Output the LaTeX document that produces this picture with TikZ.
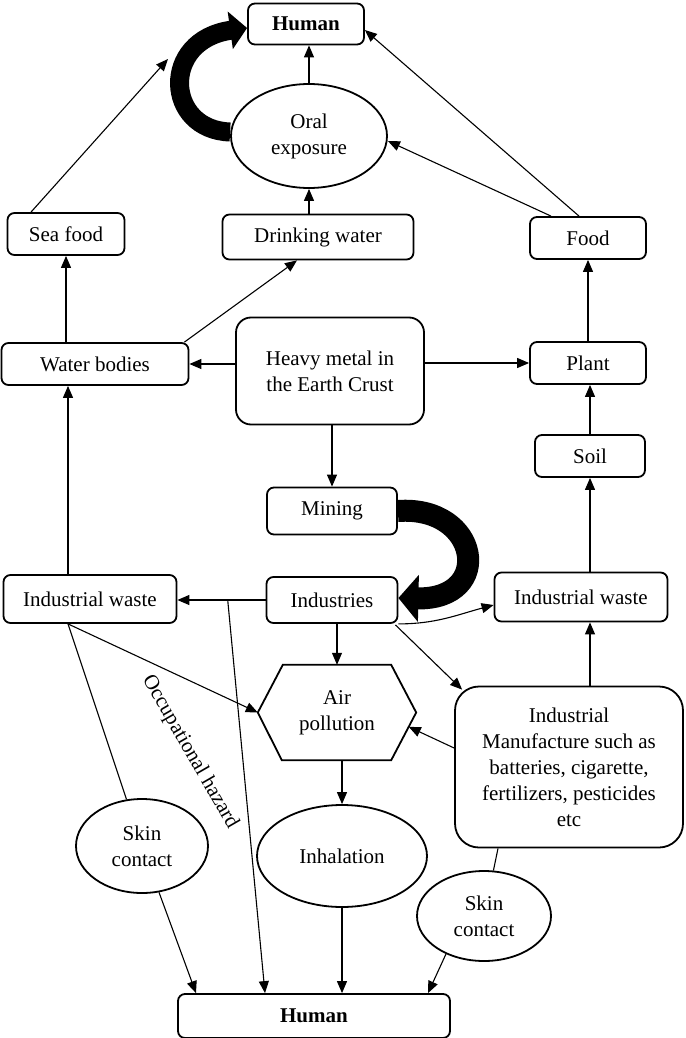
\documentclass[tikz,border=0pt]{standalone}
\usepackage{fontspec}
\setmainfont{Liberation Serif}
\usetikzlibrary{arrows.meta,shapes.geometric,calc}
\begin{document}
\begin{tikzpicture}[x=1pt,y=-1pt,
  every node/.style={font=\fontsize{21}{26}\selectfont, align=center, inner sep=0pt},
  box/.style={draw, line width=1.8pt, rounded corners=7pt},
  oval/.style={draw, line width=1.8pt, ellipse},
  conn/.style={line width=1.1pt, -{Triangle[length=12pt,width=10pt]}},
  link/.style={line width=1.1pt},
  heavyA/.style={line width=19pt, -{Triangle[length=17pt,width=37pt]}},
  heavyB/.style={line width=22pt, -{Triangle[length=20pt,width=46pt]}}]
\useasboundingbox (0,0) rectangle (685,1038);

\node[box, minimum width=116pt, minimum height=41pt] (human1) at (306,24) {\textbf{Human}};
\node[oval, minimum width=156pt, minimum height=104pt] (oral) at (309,136) {Oral\\exposure};
\node[box, minimum width=117pt, minimum height=42pt] (seafood) at (66,234) {Sea food};
\node[box, minimum width=191pt, minimum height=45pt] (drink) at (318,237) {Drinking water};
\node[box, minimum width=116pt, minimum height=42pt] (food) at (588,238) {Food};
\node[box, minimum width=187pt, minimum height=42pt] (water) at (95,364) {Water bodies};
\node[box, rounded corners=15pt, minimum width=188pt, minimum height=107pt] (heavy) at (330,371) {Heavy metal in\\the Earth Crust};
\node[box, minimum width=116pt, minimum height=42pt] (plant) at (588,363) {Plant};
\node[box, minimum width=110pt, minimum height=42pt] (soil) at (590,456) {Soil};
\node[box, minimum width=130pt, minimum height=47pt] (mining) at (332,511) {Mining};
\node[box, minimum width=131pt, minimum height=46pt] (indus) at (332,600) {Industries};
\node[box, minimum width=173pt, minimum height=48pt] (iwl) at (90,599) {Industrial waste};
\node[box, minimum width=173pt, minimum height=49pt] (iwr) at (581,597) {Industrial waste};
\node[minimum width=158pt, minimum height=95pt] (air) at (337,712.5) {Air\\pollution};
\coordinate (hxtl) at ([xshift=25pt]air.north west);
\coordinate (hxtr) at ([xshift=-25pt]air.north east);
\coordinate (hxbr) at ([xshift=-25pt]air.south east);
\coordinate (hxbl) at ([xshift=24pt]air.south west);
\draw[line width=1.8pt] (air.west) -- (hxtl) -- (hxtr) -- (air.east) -- (hxbr) -- (hxbl) -- cycle;
\node[box, rounded corners=24pt, minimum width=228pt, minimum height=161pt] (manu) at (569,767) {Industrial\\Manufacture such as\\batteries, cigarette,\\fertilizers, pesticides\\etc};
\node[oval, minimum width=132pt, minimum height=94pt] (skinl) at (142,846) {Skin\\contact};
\node[oval, minimum width=170pt, minimum height=102pt] (inhal) at (342,856) {Inhalation};
\node[oval, minimum width=134pt, minimum height=90pt] (skinr) at (484,916) {Skin\\contact};
\node[box, minimum width=272pt, minimum height=44pt] (human2) at (314,1016) {\textbf{Human}};
\node[rotate=-60] (occlabel) at (190,752) {Occupational hazard};

% connectors
\draw[conn] (oral.north) -- (oral.north |- human1.south);
\coordinate (sfend) at (168,59);
\draw[conn] ([xshift=-35pt]seafood.north) -- (sfend);
\draw[conn] ([xshift=-9pt]food.north) -- ([yshift=-6pt]human1.east);
\draw[conn] ([xshift=-37pt]food.north) -- ([yshift=-5pt]oral.east);
\draw[conn] (drink.north -| oral.south) -- (oral.south);
\draw[conn] (water.north -| seafood.south) -- (seafood.south);
\draw[conn] ([xshift=-5pt]water.north east) -- ([xshift=-21pt]drink.south);
\draw[conn] (heavy.west |- water.east) -- (water.east);
\draw[conn] (heavy.east |- plant.west) -- (plant.west);
\draw[conn] (plant.north) -- (plant.north |- food.south);
\draw[conn] (soil.north) -- (soil.north |- plant.south);
\draw[conn] (iwr.north -| soil.south) -- (soil.south);
\draw[conn] (heavy.south -| mining.north) -- (mining.north);
\draw[conn] (indus.west) -- (indus.west -| iwl.east);
\coordinate (iwb) at ([xshift=-22pt]iwl.south);
\coordinate (iwt) at ([xshift=-22pt]iwl.north);
\draw[conn] (iwt) -- (iwt |- water.south);
\draw[conn] (indus.south east) to[out=0,in=195] ([yshift=-8pt]iwr.west);
\coordinate (m1) at ([xshift=21pt]manu.north);
\draw[conn] (m1) -- (m1 |- iwr.south);
\draw[conn] (air.north |- indus.south) -- (air.north);
\draw[conn] ([xshift=-3pt,yshift=-1pt]indus.south east) -- ([xshift=8pt,yshift=-4pt]manu.north west);
\draw[conn] ([yshift=19pt]manu.west) -- ($(air.east)!0.3!(hxbr)$);
\draw[conn] (iwb) -- (air.west);
\draw[link] (iwb) -- (skinl);
\coordinate (occ) at ($(indus.west)!0.43!(iwl.east)$);
\draw[conn] (occ) -- ([xshift=-49pt]human2.north);
\draw[conn] (air.south -| inhal.north) -- (inhal.north);
\draw[conn] (inhal.south) -- (inhal.south |- human2.north);
\draw[conn] (skinl) -- ([xshift=-118pt]human2.north);
\coordinate (m3) at ([xshift=-71pt]manu.south);
\draw[link] (m3) -- (skinr);
\draw[conn] (skinr.225) -- ([xshift=114pt]human2.north);

% thick arrows
\draw[heavyA] ([yshift=4pt]oral.west) .. controls (165,130) and (160,40) .. ([yshift=-4pt]human1.west);
\draw[heavyB] (mining.east) .. controls (480,505) and (495,600) .. ([yshift=2pt]indus.east);
\end{tikzpicture}
\end{document}
